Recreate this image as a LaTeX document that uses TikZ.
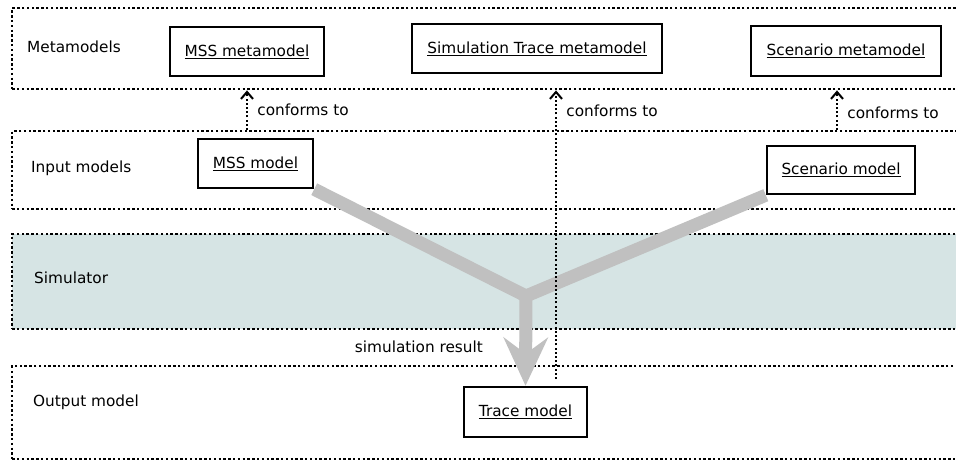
\documentclass[tikz,border=0pt]{standalone}
\usepackage{fontspec}
\setmainfont{DejaVu Sans}
\usetikzlibrary{arrows.meta}
\usetikzlibrary{backgrounds}

\definecolor{simfill}{RGB}{214,228,228}
\definecolor{flowgray}{RGB}{192,192,192}

\tikzset{
  every node/.style={font=\fontsize{15.3}{18}\selectfont},
  lane/.style={draw, line width=2.4pt, dash pattern=on 2.4pt off 2.4pt, anchor=north west, minimum width=1000pt, inner sep=0pt},
  lanetext/.style={anchor=base west, inner sep=0pt},
  model/.style={draw, line width=2.4pt, fill=white, inner sep=0pt},
  conform/.style={line width=2pt, dash pattern=on 2pt off 2.2pt, -{Straight Barb[length=7pt, width=12pt, line width=2pt]}},
  conformtext/.style={right, xshift=6pt},
  flow/.style={line width=13pt, flowgray, line join=miter}
}

\begin{document}
\begin{tikzpicture}[x=1pt, y=-1pt]
    \useasboundingbox (0,0) rectangle (956,461);
    \clip (0,0) rectangle (956,461);

    % lanes
    \begin{scope}[on background layer]
      \node[lane, minimum height=81pt] (metalane) at (11,7) {};
      \node[lane, minimum height=78pt] (inlane) at (11,130) {};
      \node[lane, minimum height=95pt, fill=simfill] (simlane) at (11,233) {};
      \node[lane, minimum height=93pt] (outlane) at (11,365) {};
    \end{scope}

    \node[lanetext] (metatext) at (27,52) {Metamodels};
    \node[lanetext] (intext) at (31,172) {Input models};
    \node[lanetext] (simtext) at (34,283) {Simulator};
    \node[lanetext] (outtext) at (33,406) {Output model};

    % models
    \node[model, minimum width=154pt, minimum height=49pt] (mssmm) at (247,51.5) {\underline{MSS metamodel}};
    \node[model, minimum width=250pt, minimum height=49pt] (stmm) at (537,48.5) {\underline{Simulation Trace metamodel}};
    \node[model, minimum width=190pt, minimum height=50pt] (scmm) at (846,51) {\underline{Scenario metamodel}};
    \node[model, minimum width=115pt, minimum height=49pt] (mssm) at (255.5,163.5) {\underline{MSS model}};
    \node[model, minimum width=148pt, minimum height=48pt] (scm) at (841,170) {\underline{Scenario model}};
    \node[model, minimum width=123pt, minimum height=50pt] (trm) at (525.5,412) {\underline{Trace model}};

    % simulation
    \coordinate (merge) at (526,296);
    \begin{scope}[on background layer]
      \draw[flow] (mssm.south east) -- (merge) -- (scm.south west);
      \draw[flow, -{Stealth[length=48pt, width=44pt, inset=16pt]}] (merge) -- (trm.north)
        node[pos=0.57, left, xshift=-33pt, black] (simres) {simulation result};
    \end{scope}

    % conformance
    \coordinate (trfoot) at (556,379);
    \coordinate (scfoot) at (837,130);
    \draw[conform] (mssmm |- inlane.north) -- (mssmm |- metalane.south)
      node[midway, conformtext] (mssconf) {conforms to};
    \draw[conform] (trfoot) -- (trfoot |- metalane.south)
      node[pos=0.93, conformtext] (trconf) {conforms to};
    \draw[conform] (scfoot) -- (scfoot |- metalane.south)
      node[pos=0.43, conformtext] (scconf) {conforms to};
  \end{tikzpicture}
\end{document}
